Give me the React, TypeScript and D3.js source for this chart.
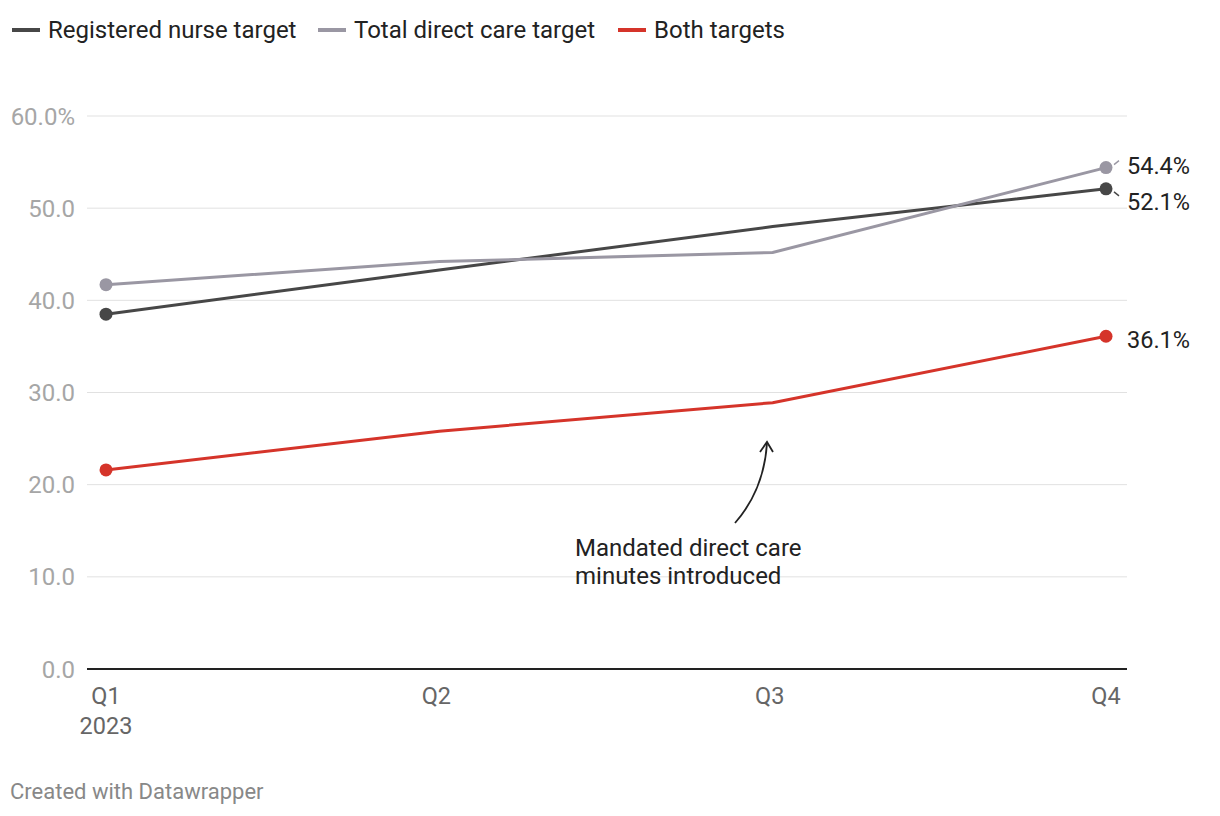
import React from "react";
import * as d3 from "d3";

const quarters = ["Q1", "Q2", "Q3", "Q4"];
const registeredNurse = [38.5, 43.3, 48.0, 52.1];
const totalDirectCare = [41.7, 44.2, 45.2, 54.4];
const bothTargets = [21.6, 25.8, 28.9, 36.1];
const yTicks = [0, 10, 20, 30, 40, 50, 60];

const series = [
  { name: "Registered nurse target", values: registeredNurse, color: "#474747", labelDy: 21, leader: 1 },
  { name: "Total direct care target", values: totalDirectCare, color: "#9a97a3", labelDy: 6, leader: -1 },
  { name: "Both targets", values: bothTargets, color: "#d5342a", labelDy: 12, leader: 0 },
];

const W = 1220;
const H = 816;
const FONT = "Roboto, sans-serif";

export default function App() {
  const x = d3.scalePoint<string>().domain(quarters).range([106, 1106]);
  const y = d3.scaleLinear().domain([0, 60]).range([669, 116]);
  const line = d3
    .line<number>()
    .x((_, i) => x(quarters[i]) as number)
    .y((d) => y(d));

  const legendX = [12, 318, 618];

  return (
    <svg width={W} height={H} style={{ position: "absolute", left: 0, top: 0, background: "#fff" }} fontFamily={FONT}>
      {/* legend */}
      {series.map((s, i) => (
        <g key={s.name} transform={`translate(${legendX[i]},30)`}>
          <line x1={0} x2={28} y1={0} y2={0} stroke={s.color} strokeWidth={4} />
          <text x={36} y={8} fontSize={24} fill="#222">{s.name}</text>
        </g>
      ))}

      {/* grid */}
      {yTicks.map((t) => (
        <g key={t}>
          {t !== 0 && <line x1={87} x2={1127} y1={y(t)} y2={y(t)} stroke="#e1e1e1" strokeWidth={1} />}
          <text x={75} y={y(t) + 8.5} textAnchor="end" fontSize={24} fill="#a6a6a6">
            {t === 60 ? "60.0%" : t.toFixed(1)}
          </text>
        </g>
      ))}
      <line x1={87} x2={1127} y1={y(0)} y2={y(0)} stroke="#222" strokeWidth={2} />

      {/* x axis labels */}
      {quarters.map((q) => (
        <text key={q} x={(x(q) as number) - (q === "Q2" || q === "Q3" ? 3 : 0)} y={704} textAnchor="middle" fontSize={23.5} fill="#666">{q}</text>
      ))}
      <text x={x("Q1")} y={734} textAnchor="middle" fontSize={23.5} fill="#666">2023</text>

      {/* lines */}
      {series.map((s) => (
        <g key={s.name}>
          <path d={line(s.values) || ""} fill="none" stroke={s.color} strokeWidth={3} />
          <circle cx={x("Q1")} cy={y(s.values[0])} r={6.5} fill={s.color} />
          <circle cx={x("Q4")} cy={y(s.values[3])} r={6.5} fill={s.color} />
        </g>
      ))}

      {/* end labels */}
      {series.map((s) => {
        const cx = x("Q4") as number;
        const cy = y(s.values[3]);
        return (
          <g key={s.name + "lab"}>
            {s.leader !== 0 && (
              <line
                x1={cx + 8}
                y1={cy + s.leader * 3}
                x2={cx + 13}
                y2={cy + s.leader * 7}
                stroke={s.color}
                strokeWidth={1.5}
              />
            )}
            <text x={1127} y={cy + s.labelDy} fontSize={23.5} fill="#222">
              {s.values[3].toFixed(1)}%
            </text>
          </g>
        );
      })}

      {/* annotation */}
      <path d="M735,523 Q764,490 767,443" fill="none" stroke="#222" strokeWidth={1.8} />
      <path d="M760,452 L767,442 L773,452" fill="none" stroke="#222" strokeWidth={1.8} />
      <text x={575} y={556} fontSize={24} fill="#222">Mandated direct care</text>
      <text x={575} y={584} fontSize={24} fill="#222">minutes introduced</text>

      {/* footer */}
      <text x={10} y={799} fontSize={22} fill="#888">Created with Datawrapper</text>
    </svg>
  );
}
